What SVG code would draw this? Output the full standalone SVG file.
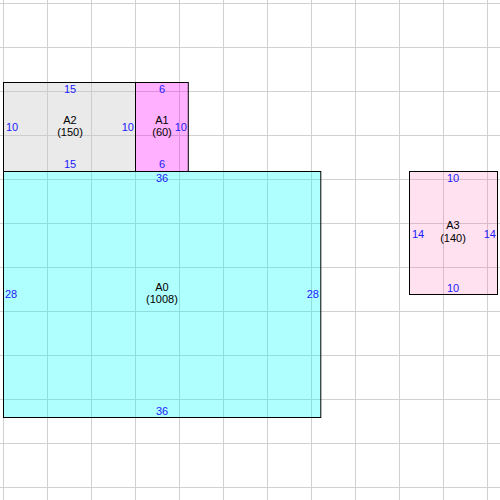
<svg xmlns="http://www.w3.org/2000/svg" width="500" height="500" viewBox="0 0 500 500">
<style>
.grid line{stroke:#d0d0d0;stroke-width:1}
.box{stroke:#000;stroke-width:1}
text{font-family:"Liberation Sans",Arial,sans-serif;font-size:11px}
.dim{fill:#2020ff}
.nm{fill:#000}
.c{text-anchor:middle}
.e{text-anchor:end}
</style>
<rect width="500" height="500" fill="#fff"/>
<g class="grid">
<line x1="3.5" y1="0" x2="3.5" y2="500"/><line x1="47.5" y1="0" x2="47.5" y2="500"/><line x1="91.5" y1="0" x2="91.5" y2="500"/><line x1="135.5" y1="0" x2="135.5" y2="500"/><line x1="179.5" y1="0" x2="179.5" y2="500"/><line x1="223.5" y1="0" x2="223.5" y2="500"/><line x1="267.5" y1="0" x2="267.5" y2="500"/><line x1="311.5" y1="0" x2="311.5" y2="500"/><line x1="355.5" y1="0" x2="355.5" y2="500"/><line x1="399.5" y1="0" x2="399.5" y2="500"/><line x1="443.5" y1="0" x2="443.5" y2="500"/><line x1="487.5" y1="0" x2="487.5" y2="500"/>
<line x1="0" y1="3.5" x2="500" y2="3.5"/><line x1="0" y1="47.5" x2="500" y2="47.5"/><line x1="0" y1="91.5" x2="500" y2="91.5"/><line x1="0" y1="135.5" x2="500" y2="135.5"/><line x1="0" y1="179.5" x2="500" y2="179.5"/><line x1="0" y1="223.5" x2="500" y2="223.5"/><line x1="0" y1="267.5" x2="500" y2="267.5"/><line x1="0" y1="311.5" x2="500" y2="311.5"/><line x1="0" y1="355.5" x2="500" y2="355.5"/><line x1="0" y1="399.5" x2="500" y2="399.5"/><line x1="0" y1="443.5" x2="500" y2="443.5"/><line x1="0" y1="487.5" x2="500" y2="487.5"/>
</g>
<g id="A0">
<rect class="box" x="3.5" y="171.5" width="317.3" height="246" fill="rgba(0,255,255,0.31)"/>
<text class="dim c" x="162" y="182">36</text>
<text class="dim c" x="162" y="415">36</text>
<text class="dim" x="5" y="298">28</text>
<text class="dim e" x="319" y="298">28</text>
<text class="nm c" x="162" y="291">A0</text>
<text class="nm c" x="162" y="303">(1008)</text>
</g>
<g id="A2">
<rect class="box" x="3.5" y="82.5" width="132" height="89" fill="rgba(200,200,200,0.38)"/>
<text class="dim c" x="70" y="93">15</text>
<text class="dim c" x="70" y="168">15</text>
<text class="dim" x="6" y="131">10</text>
<text class="dim e" x="134" y="131">10</text>
<text class="nm c" x="70" y="124">A2</text>
<text class="nm c" x="70" y="136">(150)</text>
</g>
<g id="A1">
<rect class="box" x="135.5" y="82.5" width="52.8" height="89" fill="rgba(255,0,255,0.31)"/>
<text class="dim c" x="162" y="93">6</text>
<text class="dim c" x="162" y="168">6</text>
<text class="dim e" x="187" y="131">10</text>
<text class="nm c" x="162" y="124">A1</text>
<text class="nm c" x="162" y="136">(60)</text>
</g>
<g id="A3">
<rect class="box" x="409.5" y="171.5" width="88" height="123" fill="rgba(255,105,180,0.2)"/>
<text class="dim c" x="453" y="182">10</text>
<text class="dim c" x="453" y="292">10</text>
<text class="dim" x="412" y="238">14</text>
<text class="dim e" x="496" y="238">14</text>
<text class="nm c" x="453" y="229">A3</text>
<text class="nm c" x="453" y="242">(140)</text>
</g>
</svg>
